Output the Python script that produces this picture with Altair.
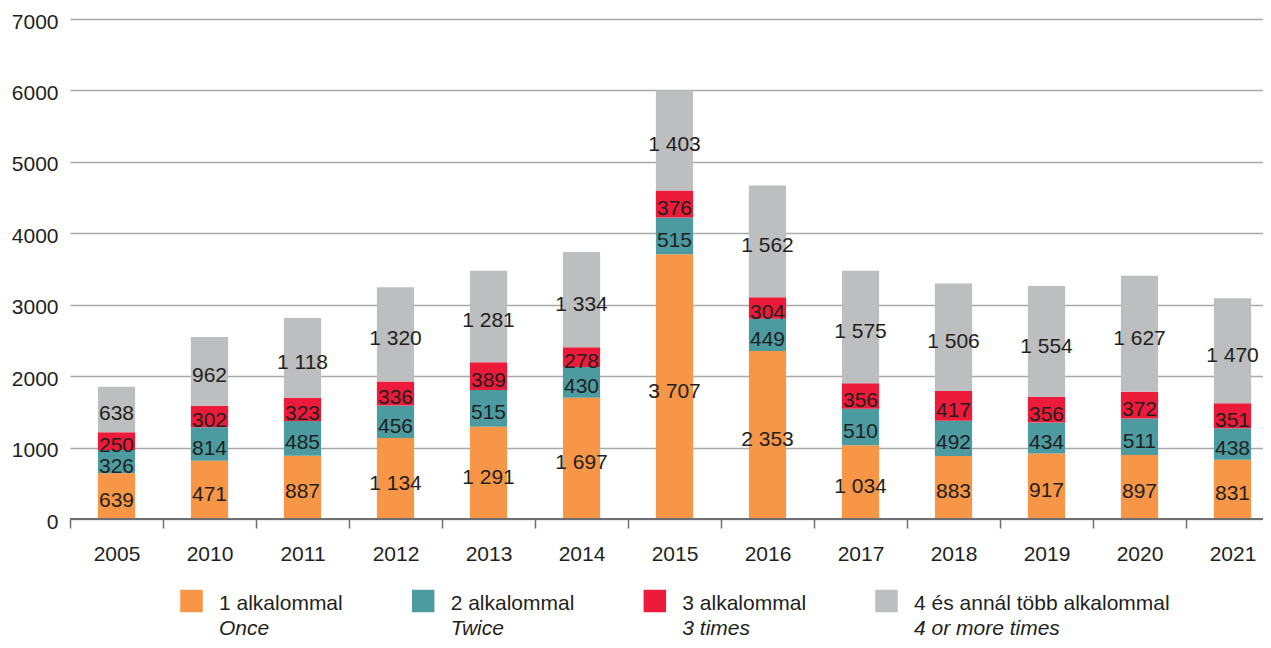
import altair as alt
import pandas as pd

# ---- data ----
years = ["2005", "2010", "2011", "2012", "2013", "2014", "2015",
         "2016", "2017", "2018", "2019", "2020", "2021"]

# segment heights as drawn
once = [639, 814, 887, 1134, 1291, 1697, 3707, 2353, 1034, 883, 917, 897, 831]
twice = [326, 471, 485, 456, 515, 430, 515, 449, 510, 492, 434, 511, 438]
three_times = [250, 302, 323, 336, 389, 278, 376, 304, 356, 417, 356, 372, 351]
four_plus = [638, 962, 1118, 1320, 1281, 1334, 1403, 1562, 1575, 1506, 1554, 1627, 1470]

# numbers printed on the segments (2010's first two are printed swapped in the source)
once_printed = [639, 471, 887, 1134, 1291, 1697, 3707, 2353, 1034, 883, 917, 897, 831]
twice_printed = [326, 814, 485, 456, 515, 430, 515, 449, 510, 492, 434, 511, 438]

series_hu = ["1 alkalommal", "2 alkalommal", "3 alkalommal", "4 és annál több alkalommal"]
series_en = ["Once", "Twice", "3 times", "4 or more times"]
series_colors = ["#F79646", "#4B9BA0", "#ED1B3A", "#BCBEC0"]

y_ticks = [0, 1000, 2000, 3000, 4000, 5000, 6000, 7000]

TEXT = "#231F20"
GRID = "#A7A9AC"
AXIS = "#6D6E71"
FONT = "Liberation Sans"

W, H = 1193, 500          # plot area
STEP = 93                 # pixel width of one year slot
BAR_FRAC = 0.4            # bar width as a share of the slot


def fmt(v):
    return f"{v:,}".replace(",", " ")


values = [once, twice, three_times, four_plus]
printed = [once_printed, twice_printed, three_times, four_plus]
rows = []
for i, yr in enumerate(years):
    for k in range(4):
        rows.append({"year": yr, "idx": i, "series": series_hu[k], "order": k,
                     "value": values[k][i], "label": fmt(printed[k][i])})
df = pd.DataFrame(rows)

color_scale = alt.Scale(domain=series_hu, range=series_colors)
y_scale = alt.Scale(domain=[0, 7000], nice=False)
x_scale = alt.Scale(domain=[-0.5, -0.5 + W / STEP], nice=False, zero=False)

year_array = "[" + ",".join(f"'{y}'" for y in years) + "]"
x_axis = alt.Axis(title=None, domain=False, grid=False, labelAngle=0,
                  values=list(range(len(years))),
                  labelExpr=f"{year_array}[datum.value]",
                  labelFlush=False, labelOverlap=False,
                  labelFontSize=21, labelFont=FONT, labelColor=TEXT,
                  tickColor=AXIS, tickSize=9, tickWidth=1.5,
                  tickOffset=-STEP / 2, labelOffset=STEP / 2, labelPadding=15)
y_axis = alt.Axis(title=None, values=y_ticks, format="d", domain=False,
                  ticks=False, tickSize=0, labelPadding=12, labelOffset=3,
                  labelFontSize=21, labelFont=FONT, labelColor=TEXT,
                  grid=True, gridColor=GRID, gridWidth=1.3)

base = alt.Chart(df).transform_stack(
    stack="value", groupby=["year"], as_=["y0", "y1"],
    sort=[alt.SortField("order", order="ascending")],
).transform_calculate(
    x0=f"datum.idx - {BAR_FRAC / 2}",
    x1=f"datum.idx + {BAR_FRAC / 2}",
    mid="(datum.y0 + datum.y1) / 2",
)

bars = base.mark_bar().encode(
    x=alt.X("x0:Q", scale=x_scale, axis=x_axis),
    x2="x1:Q",
    y=alt.Y("y0:Q", scale=y_scale, axis=y_axis),
    y2="y1:Q",
    color=alt.Color("series:N", scale=color_scale, legend=None),
)

labels = base.mark_text(fontSize=21, font=FONT, color=TEXT,
                        baseline="middle", dy=5).encode(
    x=alt.X("idx:Q", scale=x_scale, axis=x_axis),
    y=alt.Y("mid:Q", scale=y_scale, axis=y_axis),
    text="label:N",
)

baseline = alt.Chart(pd.DataFrame({"zero": [0]})).mark_rule(
    color=AXIS, strokeWidth=2
).encode(y=alt.Y("zero:Q", scale=y_scale, axis=y_axis))

plot = alt.layer(bars, labels, baseline)

# legend below the plot: swatch, Hungarian name, English name in italics
leg_df = pd.DataFrame({"hu": series_hu, "en": series_en})
leg_base = alt.Chart(leg_df).encode(
    x=alt.X("hu:N", sort=series_hu,
            scale=alt.Scale(type="point", range=[121.5, 816.5], padding=0),
            axis=None)
)
leg_sq = leg_base.mark_square(size=506, opacity=1, strokeWidth=0).encode(
    y=alt.value(H + 82),
    color=alt.Color("hu:N", scale=color_scale, legend=None),
)
leg_t1 = leg_base.mark_text(align="left", baseline="alphabetic", dx=27.5,
                            fontSize=21, font=FONT, color=TEXT).encode(
    y=alt.value(H + 91), text="hu:N")
leg_t2 = leg_base.mark_text(align="left", baseline="alphabetic", dx=27.5,
                            fontSize=21, font=FONT, color=TEXT,
                            fontStyle="italic").encode(
    y=alt.value(H + 116), text="en:N")
legend = alt.layer(leg_sq, leg_t1, leg_t2)

chart = alt.layer(plot, legend).resolve_scale(x="independent").properties(
    width=W, height=H,
    autosize=alt.AutoSizeParams(type="none"),
    padding={"left": 62, "top": 11, "right": 0, "bottom": 121},
    background="white",
).configure_view(stroke=None)

chart.save("out.html", embed_options={"renderer": "svg", "actions": False})
